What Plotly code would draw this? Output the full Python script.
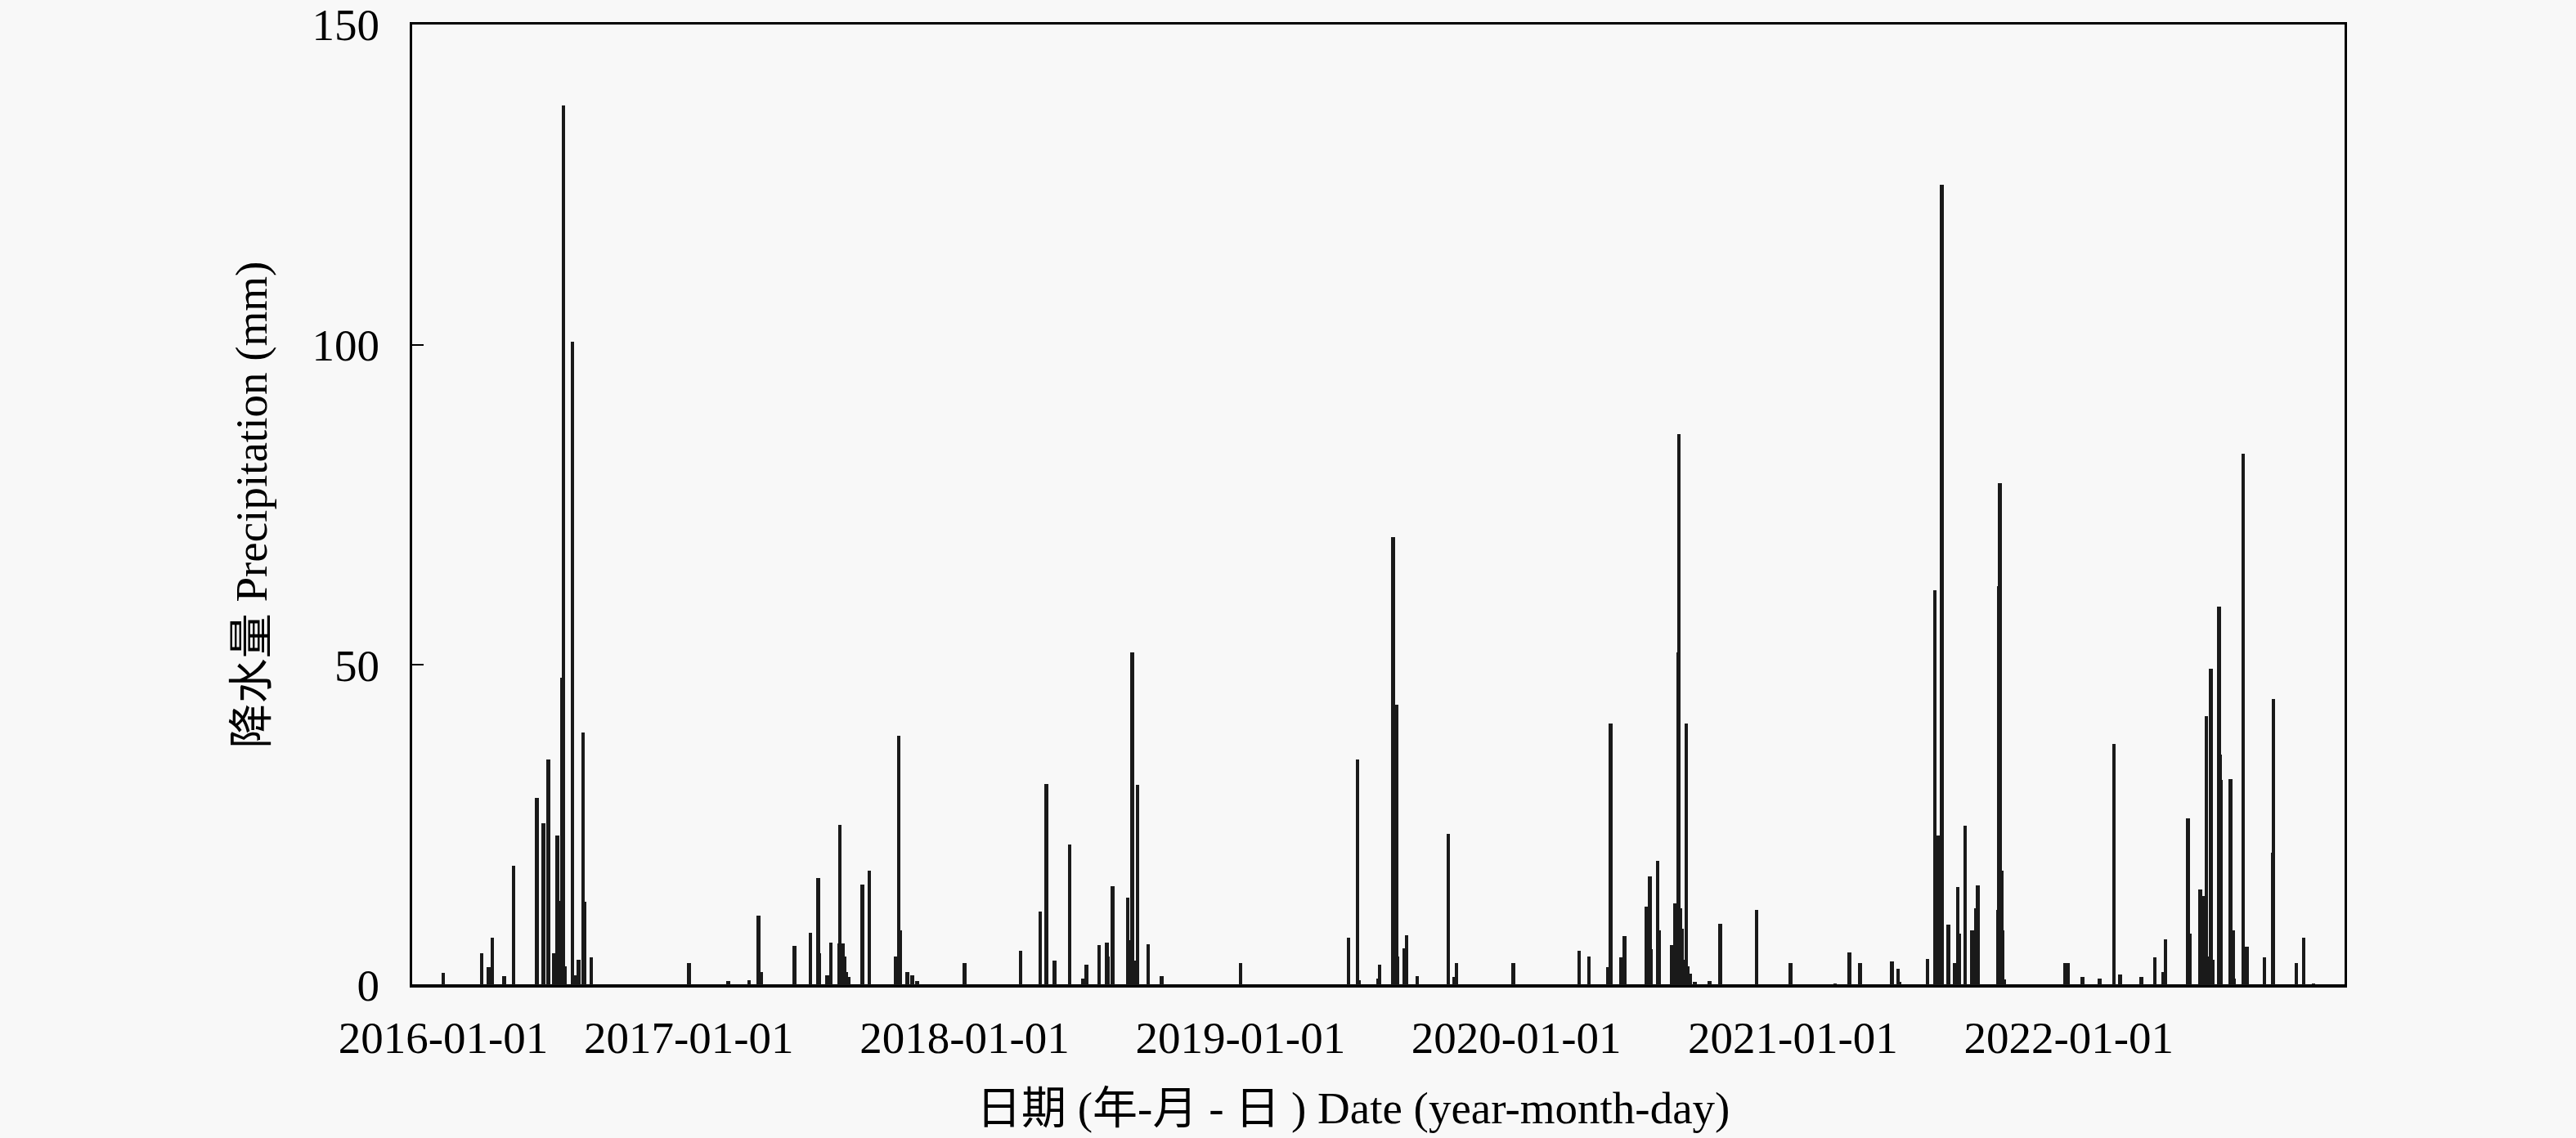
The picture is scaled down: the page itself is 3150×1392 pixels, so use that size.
import plotly.graph_objects as go

# Daily precipitation events (non-zero days)
rain_dates = [
    "2016-02-11", "2016-04-02", "2016-04-11", "2016-04-16", "2016-05-02", "2016-05-14",
    "2016-06-14", "2016-06-23", "2016-06-29", "2016-07-06", "2016-07-08", "2016-07-11",
    "2016-07-14", "2016-07-15", "2016-07-17", "2016-07-19", "2016-07-21", "2016-07-31",
    "2016-08-03", "2016-08-08", "2016-08-14", "2016-08-16", "2016-08-25",
    "2017-01-01", "2017-02-22", "2017-03-22", "2017-04-03", "2017-04-07", "2017-05-21",
    "2017-06-11", "2017-06-21", "2017-06-23", "2017-07-03", "2017-07-08", "2017-07-19",
    "2017-07-20", "2017-07-22", "2017-07-24", "2017-07-26", "2017-07-28", "2017-07-31",
    "2017-08-19", "2017-08-28", "2017-10-02", "2017-10-06", "2017-10-08", "2017-10-17",
    "2017-10-24", "2017-10-30",
    "2018-01-01", "2018-03-16", "2018-04-11", "2018-04-19", "2018-04-30", "2018-05-20",
    "2018-06-07", "2018-06-11", "2018-06-28", "2018-07-08", "2018-07-10", "2018-07-16",
    "2018-08-05", "2018-08-07", "2018-08-11", "2018-08-16", "2018-08-18", "2018-09-01",
    "2018-09-19",
    "2019-01-01", "2019-05-24", "2019-06-05", "2019-06-07", "2019-07-02", "2019-07-04",
    "2019-07-22", "2019-07-26", "2019-07-28", "2019-08-06", "2019-08-09", "2019-08-23",
    "2019-10-03", "2019-10-11", "2019-10-14", "2019-12-28",
    "2020-03-24", "2020-04-06", "2020-05-01", "2020-05-05", "2020-05-19", "2020-05-23",
    "2020-06-21", "2020-06-26", "2020-06-27", "2020-07-06", "2020-07-08", "2020-07-25",
    "2020-07-29", "2020-07-31", "2020-08-02", "2020-08-03", "2020-08-05", "2020-08-07",
    "2020-08-10", "2020-08-13", "2020-08-15", "2020-08-18", "2020-08-24", "2020-09-13",
    "2020-09-27", "2020-11-14", "2020-12-29",
    "2021-02-26", "2021-03-17", "2021-03-31", "2021-05-12", "2021-05-20", "2021-05-22",
    "2021-06-28", "2021-07-08", "2021-07-13", "2021-07-17", "2021-07-26", "2021-08-03",
    "2021-08-07", "2021-08-09", "2021-08-17", "2021-08-26", "2021-08-31", "2021-09-03",
    "2021-09-30", "2021-10-01", "2021-10-02", "2021-10-04", "2021-10-05", "2021-10-07",
    "2021-12-27", "2021-12-31",
    "2022-01-19", "2022-02-11", "2022-03-02", "2022-03-10", "2022-04-07", "2022-04-25",
    "2022-05-06", "2022-05-09", "2022-06-08", "2022-06-10", "2022-06-24", "2022-06-26",
    "2022-06-29", "2022-07-02", "2022-07-04", "2022-07-08", "2022-07-10", "2022-07-19",
    "2022-07-20", "2022-07-21", "2022-08-03", "2022-08-06", "2022-08-08", "2022-08-20",
    "2022-08-25", "2022-09-17", "2022-09-28", "2022-09-29", "2022-10-29", "2022-11-08",
    "2022-11-21",
]

rain_mm = [
    1.9, 5.0, 2.8, 7.4, 1.4, 18.6,
    29.2, 25.3, 35.2, 5.0, 3.0, 23.4,
    13.2, 8.5, 48.0, 137.4, 3.0, 100.5,
    1.5, 4.0, 39.5, 13.0, 4.3,
    3.5, 0.7, 0.8, 10.9, 2.1, 6.1,
    8.2, 16.7, 5.0, 1.5, 6.6, 6.5,
    25.0, 6.0, 6.5, 4.5, 2.0, 1.3,
    15.7, 17.9, 4.5, 38.9, 8.6, 2.0,
    1.5, 0.6,
    3.5, 5.4, 11.5, 31.4, 3.8, 21.9,
    1.0, 3.2, 6.3, 6.7, 4.5, 15.5,
    13.6, 7.0, 52.0, 3.8, 31.3, 6.4,
    1.4,
    3.5, 7.4, 35.2, 0.8, 1.0, 3.2,
    70.0, 43.8, 4.5, 5.7, 7.8, 1.4,
    23.6, 1.3, 3.5, 3.5,
    5.4, 4.5, 2.8, 40.9, 4.4, 7.7,
    12.3, 17.0, 5.6, 19.4, 8.6, 6.2,
    12.8, 10.0, 52.0, 86.0, 12.0, 8.8,
    4.0, 40.9, 3.0, 1.8, 0.5, 0.7,
    9.6, 11.7, 3.4,
    0.3, 5.1, 3.4, 3.7, 2.6, 0.5,
    4.1, 61.6, 23.3, 125.0, 9.4, 3.5,
    15.3, 8.0, 24.9, 8.5, 12.0, 15.6,
    11.7, 62.3, 78.4, 17.9, 8.5, 0.9,
    3.4, 3.4,
    1.3, 1.0, 37.7, 1.7, 1.3, 4.3,
    2.0, 7.1, 26.1, 8.0, 15.0, 5.0,
    13.9, 42.0, 4.5, 49.4, 4.0, 59.1,
    36.0, 32.0, 32.2, 8.5, 1.0, 83.0,
    6.0, 4.3, 20.7, 44.7, 3.4, 7.4,
    0.3,
]

tick_dates = ["2017-01-01", "2018-01-01", "2019-01-01", "2020-01-01", "2021-01-01", "2022-01-01"]
first_tick = ["2016-01-01"]
y_ticks = [0, 50, 100, 150]

x_title = "日期 (年-月 - 日 ) Date (year-month-day)"
y_title = "降水量 Precipitation (mm)"

FONT = "Liberation Serif, Times New Roman, Noto Sans CJK SC, serif"
BG = "#f8f8f8"
DAY_MS = 86400000

fig = go.Figure()
fig.add_trace(go.Bar(
    x=rain_dates, y=rain_mm,
    width=[5.0 * DAY_MS] * len(rain_dates),
    marker=dict(color="#1a1a1a", line=dict(width=0)),
    showlegend=False,
))
# invisible helper trace so the secondary axis (shifted first date label) renders
fig.add_trace(go.Scatter(x=first_tick, y=[0], xaxis="x2", mode="markers",
                         marker=dict(opacity=0), showlegend=False, hoverinfo="skip"))

fig.update_layout(
    width=3150, height=1392,
    margin=dict(l=504, r=283, t=30, b=187),
    paper_bgcolor=BG, plot_bgcolor=BG,
    font=dict(family=FONT, size=55, color="black"),
    bargap=0,
    xaxis=dict(
        type="date",
        range=["2016-01-01", "2023-01-01"],
        tickvals=tick_dates, ticktext=tick_dates,
        ticks="", showgrid=False, zeroline=False, automargin=False,
        showline=True, linecolor="black", linewidth=3, mirror=True,
        tickfont=dict(family=FONT, size=55),
        ticklabelstandoff=14,
    ),
    xaxis2=dict(
        type="date", overlaying="x", side="bottom",
        range=["2016-01-01", "2023-01-01"],
        tickvals=first_tick, ticktext=first_tick,
        ticklabelshift=38, ticklabelstandoff=14, automargin=False,
        ticks="", showgrid=False, zeroline=False,
        showline=True, linecolor="black", linewidth=3,
        tickfont=dict(family=FONT, size=55),
    ),
    yaxis=dict(
        range=[0, 150], tickvals=y_ticks,
        ticks="inside", ticklen=14, tickwidth=2, tickcolor="black",
        showgrid=False, automargin=False,
        zeroline=True, zerolinecolor="black", zerolinewidth=3,
        showline=True, linecolor="black", linewidth=3, mirror=True,
        tickfont=dict(family=FONT, size=55),
        ticklabelstandoff=26,
        title=dict(text=y_title, font=dict(family=FONT, size=55), standoff=38),
    ),
    annotations=[dict(
        text=x_title, xref="paper", yref="paper",
        x=0.487, y=-0.128, xanchor="center", yanchor="middle",
        showarrow=False, font=dict(family=FONT, size=55, color="black"),
    )],
)

fig.write_html(
    "out.html",
    config={"displayModeBar": False},
    post_script="document.body.style.margin='0';document.body.style.background='#f8f8f8';",
)
